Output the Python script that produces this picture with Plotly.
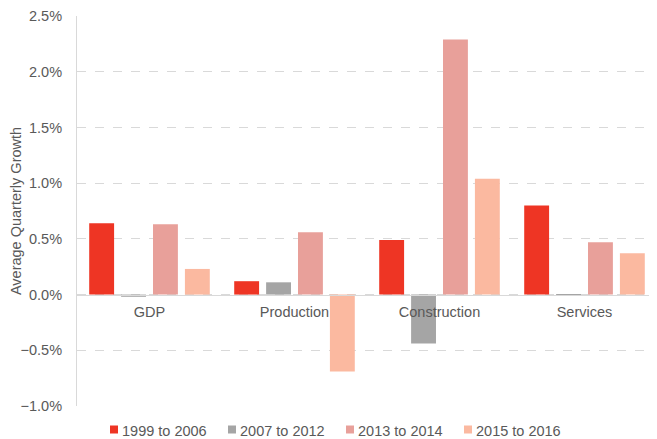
import plotly.graph_objects as go

categories = ["GDP", "Production", "Construction", "Services"]
series_names = ["1999 to 2006", "2007 to 2012", "2013 to 2014", "2015 to 2016"]
s1999_2006 = [0.0064, 0.0012, 0.0049, 0.0080]
s2007_2012 = [-0.0002, 0.0011, -0.0044, -0.0001]
s2013_2014 = [0.0063, 0.0056, 0.0229, 0.0047]
s2015_2016 = [0.0023, -0.0069, 0.0104, 0.0037]
colors = ["#EE3524", "#A5A5A5", "#E8A09A", "#FBB9A0"]
y_ticks = [-0.01, -0.005, 0, 0.005, 0.01, 0.015, 0.02, 0.025]

FONT = "Liberation Sans, Arial, sans-serif"
FS = 14.5
TXT = "#595959"

fig = go.Figure()
for name, vals, col in zip(series_names, [s1999_2006, s2007_2012, s2013_2014, s2015_2016], colors):
    fig.add_trace(go.Bar(x=categories, y=vals, name=name, showlegend=False,
                         marker=dict(color=col, line=dict(width=0))))

ymin, ymax = -0.01, 0.025
# page body has an 8px default margin, so the figure is sized/margined to compensate
ML, MT, W, H, MB = 69, 8, 649, 431, 33
PW, PH = W - ML, H - MT - MB


def px_x(fx):
    return (fx - ML) / PW


def px_y(fy):
    return (MT + PH - fy) / PH


# legend built as swatch + label, laid out horizontally below the plot
LEG_X0, LEG_STEP, LEG_Y = 102, 118, 421.5
shapes, annotations = [], []
for i, (name, col) in enumerate(zip(series_names, colors)):
    sx = LEG_X0 + LEG_STEP * i
    shapes.append(dict(type="rect", xref="paper", yref="paper",
                       x0=px_x(sx), x1=px_x(sx + 8), y0=px_y(LEG_Y + 4), y1=px_y(LEG_Y - 4),
                       fillcolor=col, line=dict(width=0)))
    annotations.append(dict(xref="paper", yref="paper", x=px_x(sx + 10), y=px_y(LEG_Y + 1),
                            xanchor="left", yanchor="middle", showarrow=False, text=name,
                            font=dict(size=FS, color=TXT, family=FONT)))

fig.update_layout(
    width=W, height=H,
    margin=dict(l=ML, r=0, t=MT, b=MB, autoexpand=False),
    paper_bgcolor="white", plot_bgcolor="white",
    barmode="group", bargap=0.12, bargroupgap=0.22,
    font=dict(family=FONT, size=FS, color=TXT),
    showlegend=False,
    shapes=shapes, annotations=annotations,
    xaxis=dict(anchor="free", position=(0 - ymin) / (ymax - ymin), showline=True,
               linecolor="#D9D9D9", linewidth=1, ticks="", showgrid=False, automargin=False,
               ticklabelstandoff=4, tickfont=dict(size=FS, color=TXT)),
    yaxis=dict(range=[ymin, ymax], tickvals=y_ticks, tickformat=".1%", automargin=False,
               showgrid=True, gridcolor="#D9D9D9", griddash="dash", gridwidth=1,
               zeroline=False, showline=True, linecolor="#D9D9D9",
               ticks="", ticklabelstandoff=11, tickfont=dict(size=FS, color=TXT),
               title=dict(text="Average Quarterly Growth", standoff=8,
                          font=dict(size=FS, color=TXT))),
)
fig.write_html("out.html")
